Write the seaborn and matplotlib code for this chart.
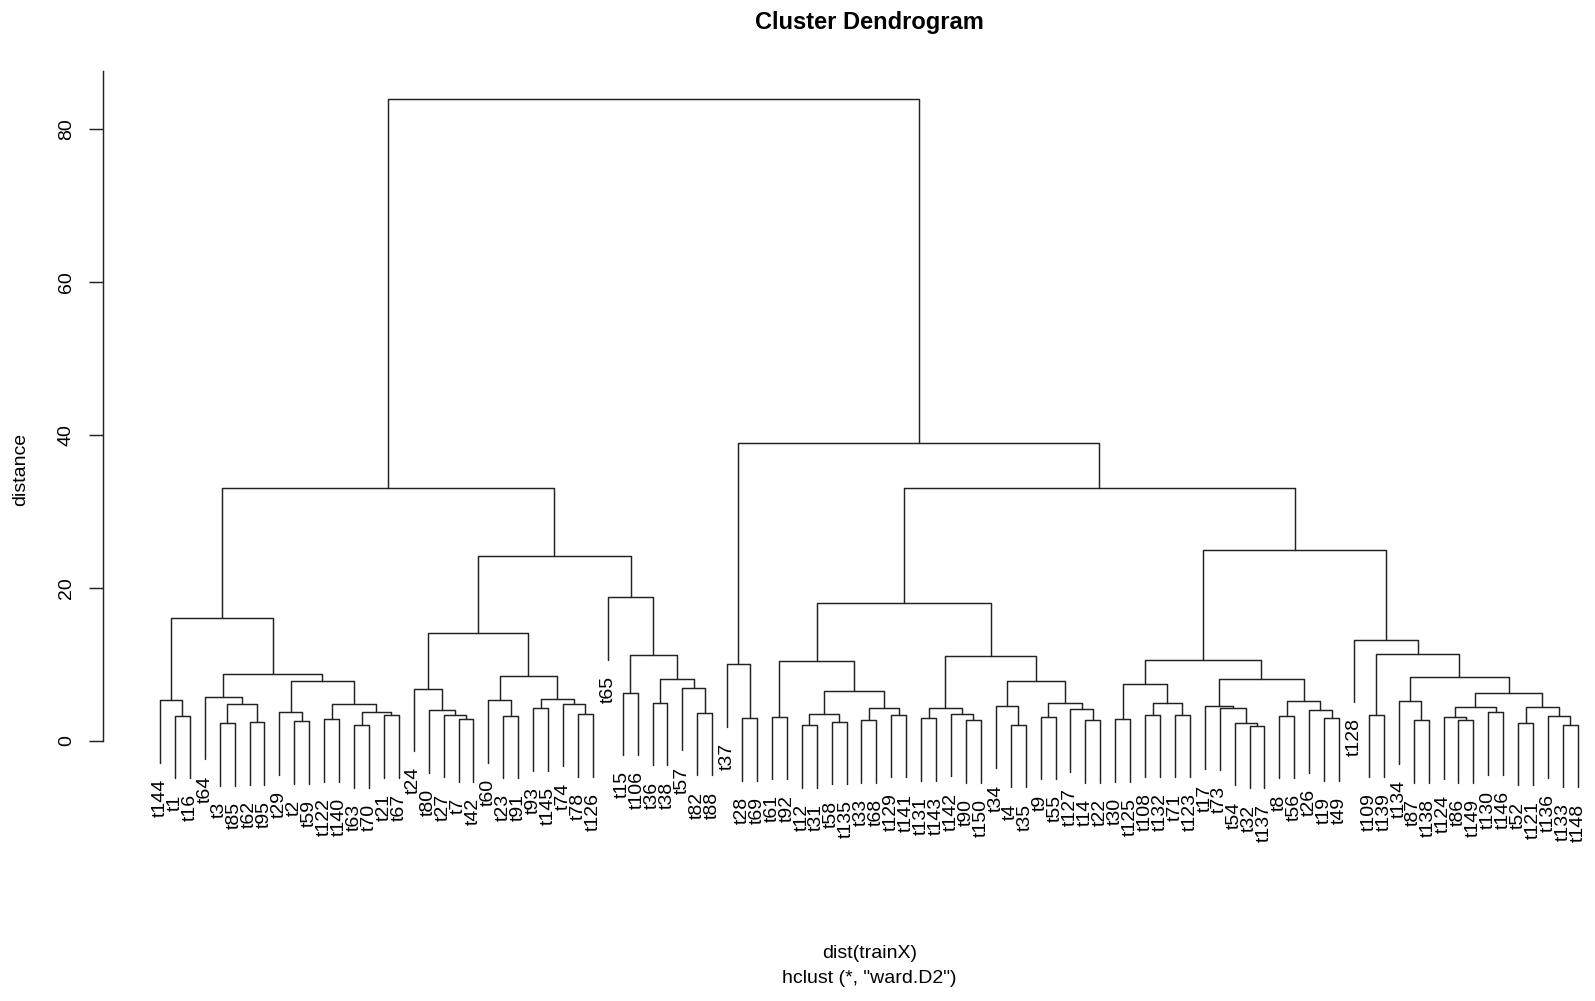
import numpy as np
import pandas as pd
import matplotlib
matplotlib.use("Agg")
import matplotlib.pyplot as plt
import seaborn as sns

# ---------------- data ----------------
leaf_labels = [
    "t144", "t1", "t16", "t64", "t3", "t85", "t62", "t95", "t29", "t2", "t59",
    "t122", "t140", "t63", "t70", "t21", "t67",
    "t24", "t80", "t27", "t7", "t42", "t60", "t23", "t91", "t93", "t145", "t74",
    "t78", "t126",
    "t65", "t15", "t106", "t36", "t38", "t57", "t82", "t88",
    "t37", "t28", "t69", "t61", "t92", "t12", "t31", "t58", "t135", "t33", "t68",
    "t129", "t141", "t131", "t143", "t142", "t90", "t150", "t34", "t4", "t35",
    "t9", "t55", "t127", "t14", "t22", "t30", "t125", "t108", "t132", "t71",
    "t123", "t17", "t73", "t54", "t32", "t137", "t8", "t56", "t26", "t19", "t49",
    "t128", "t109", "t139", "t134", "t87", "t138", "t124", "t86", "t149", "t130",
    "t146", "t52", "t121", "t136", "t133", "t148",
]

# R-style merge table: negative = leaf number (position in leaf_labels, 1-based),
# positive = earlier merge row (1-based)
merge_left = [
    -2, -1, -5, -7, 3, -4, -10, -9, -12, -14, -16, 10, 9, 8, 6, 2,
    -21, -20, -19, -18, -24, -23, -26, -29, -28, 23, 22, 20,
    -32, -34, -37, -36, 30, 29, -31, 28, 16,
    -40, -39, -42, -44, -46, 41, -48, -50, 44, 43, 40, -52, -55, -54, 49,
    -58, -57, -60, -63, -62, 55, 54, 52, 48,
    -65, -67, -69, 63, 62, -74, -73, -72, -71, -76, -79, -78, 71, 70, 66,
    -82, -85, -84, -88, -87, -90, 81, -92, -95, -94, 84, 83, 79, 77, -81,
    76, 61, 39, 37,
]
merge_right = [
    -3, 1, -6, -8, 4, 5, -11, 7, -13, -15, -17, 11, 12, 13, 14, 15,
    -22, 17, 18, 19, -25, 21, -27, -30, 24, 25, 26, 27,
    -33, -35, -38, 31, 32, 33, 34, 35, 36,
    -41, 38, -43, -45, -47, 42, -49, -51, 45, 46, 47, -53, -56, 50, 51,
    -59, 53, -61, -64, 56, 57, 58, 59, 60,
    -66, -68, -70, 64, 65, -75, 67, 68, 69, -77, -80, 72, 73, 74, 75,
    -83, -86, 78, -89, 80, -91, 82, -93, -96, 85, 86, 87, 88, 89, 90,
    91, 92, 93, 94,
]
merge_height = [
    3.25, 5.30, 2.25, 2.38, 4.74, 5.73, 2.55, 3.73, 2.81, 2.03, 3.34, 3.69,
    4.74, 7.79, 8.66, 16.0,
    2.77, 3.38, 3.95, 6.80, 3.25, 5.26, 4.25, 3.43, 4.82, 5.47, 8.49, 14.1,
    6.26, 4.95, 3.64, 6.91, 8.09, 11.15, 18.8, 24.2, 33.0,
    2.94, 9.97, 3.12, 2.03, 2.46, 3.51, 2.64, 3.38, 4.30, 6.52, 10.45,
    2.94, 2.64, 3.51, 4.30, 2.07, 4.56, 3.12, 2.64, 4.12, 4.86, 7.83, 11.0,
    18.03,
    2.81, 3.38, 3.38, 4.86, 7.35, 1.94, 2.33, 4.30, 4.51, 3.25, 2.94, 3.99,
    5.17, 8.09, 10.58,
    3.38, 2.64, 5.17, 2.64, 3.12, 3.69, 4.43, 2.33, 2.07, 3.25, 4.43, 6.26,
    8.35, 11.32, 13.2, 25.0, 33.0, 38.9, 84.0,
]

y_ticks = [0, 20, 40, 60, 80]
title = "Cluster Dendrogram"
x_label1 = "dist(trainX)"
x_label2 = 'hclust (*, "ward.D2")'
y_label = "distance"

# ---------------- geometry (R plot.hclust style) ----------------
n = len(leaf_labels)
hang = 0.1 * (max(merge_height) - min(merge_height))
leaf_x = np.arange(1, n + 1, dtype=float)
node_x = {}
leaf_end = {}
rows = []
for i, (l, r, h) in enumerate(zip(merge_left, merge_right, merge_height), start=1):
    pts = []
    for ref in (l, r):
        if ref < 0:
            x = leaf_x[-ref - 1]
            yb = h - hang
            leaf_end[-ref - 1] = yb
        else:
            x = node_x[ref]
            yb = merge_height[ref - 1]
        pts.append((x, yb))
    (xl, yl), (xr, yr) = pts
    node_x[i] = (xl + xr) / 2.0
    for k, (px, py) in enumerate([(xl, yl), (xl, h), (xr, h), (xr, yr)]):
        rows.append({"link": i, "order": k, "x": px, "y": py})
seg = pd.DataFrame(rows)

ymin = min(leaf_end.values())
ymax = max(merge_height)
yext = 0.04 * (ymax - ymin)
xext = 0.04 * (n - 1)

# ---------------- figure ----------------
sns.set_theme(style="white")
plt.rcParams["font.family"] = ["Liberation Sans", "DejaVu Sans"]

W, H = 1595, 1001
fig = plt.figure(figsize=(W / 100, H / 100), dpi=100)
fig.patch.set_facecolor("white")
left_px, right_px, top_px, bot_px = 103.3, 1634.6, 71.1, 816.0
ax = fig.add_axes([left_px / W, 1 - bot_px / H, (right_px - left_px) / W,
                   (bot_px - top_px) / H])
ax.set_facecolor("white")

line_col = "#222222"
sns.lineplot(data=seg, x="x", y="y", units="link", estimator=None, sort=False,
             color=line_col, linewidth=1.05, ax=ax, legend=False)

ax.set_xlim(1 - xext, n + xext)
ax.set_ylim(ymin - yext, ymax + yext)

for i, lab in enumerate(leaf_labels):
    ax.annotate(lab, xy=(leaf_x[i], leaf_end[i]), xytext=(0, -11.5),
                textcoords="offset points", rotation=90, ha="center", va="top",
                fontsize=14, color="black", annotation_clip=False)

for s in ["top", "right", "bottom"]:
    ax.spines[s].set_visible(False)
ax.spines["left"].set_color(line_col)
ax.spines["left"].set_linewidth(1.05)
ax.spines["left"].set_bounds(0, ymax + yext)
ax.set_xticks([])
ax.set_yticks(y_ticks)
ax.set_yticklabels([str(t) for t in y_ticks], rotation=90, va="center", ha="center",
                   fontsize=14, color="black")
ax.tick_params(axis="y", which="both", left=True, length=10, width=1.05,
               color=line_col, pad=16.5, direction="out")
ax.set_xlabel("")
ax.set_ylabel("")
ax.grid(False)

fig.text(869.5 / W, 1 - 22.5 / H, title, ha="center", va="center",
         fontsize=17, fontweight="bold", color="black")
fig.text(869.5 / W, 1 - 954 / H, x_label1, ha="center", va="center",
         fontsize=14, color="black")
fig.text(869.5 / W, 1 - 978.5 / H, x_label2, ha="center", va="center",
         fontsize=14, color="black")
fig.text(20.3 / W, 1 - 469 / H, y_label, rotation=90, ha="center", va="center",
         fontsize=14, color="black")

fig.savefig("out.png", dpi=100, facecolor="white")
